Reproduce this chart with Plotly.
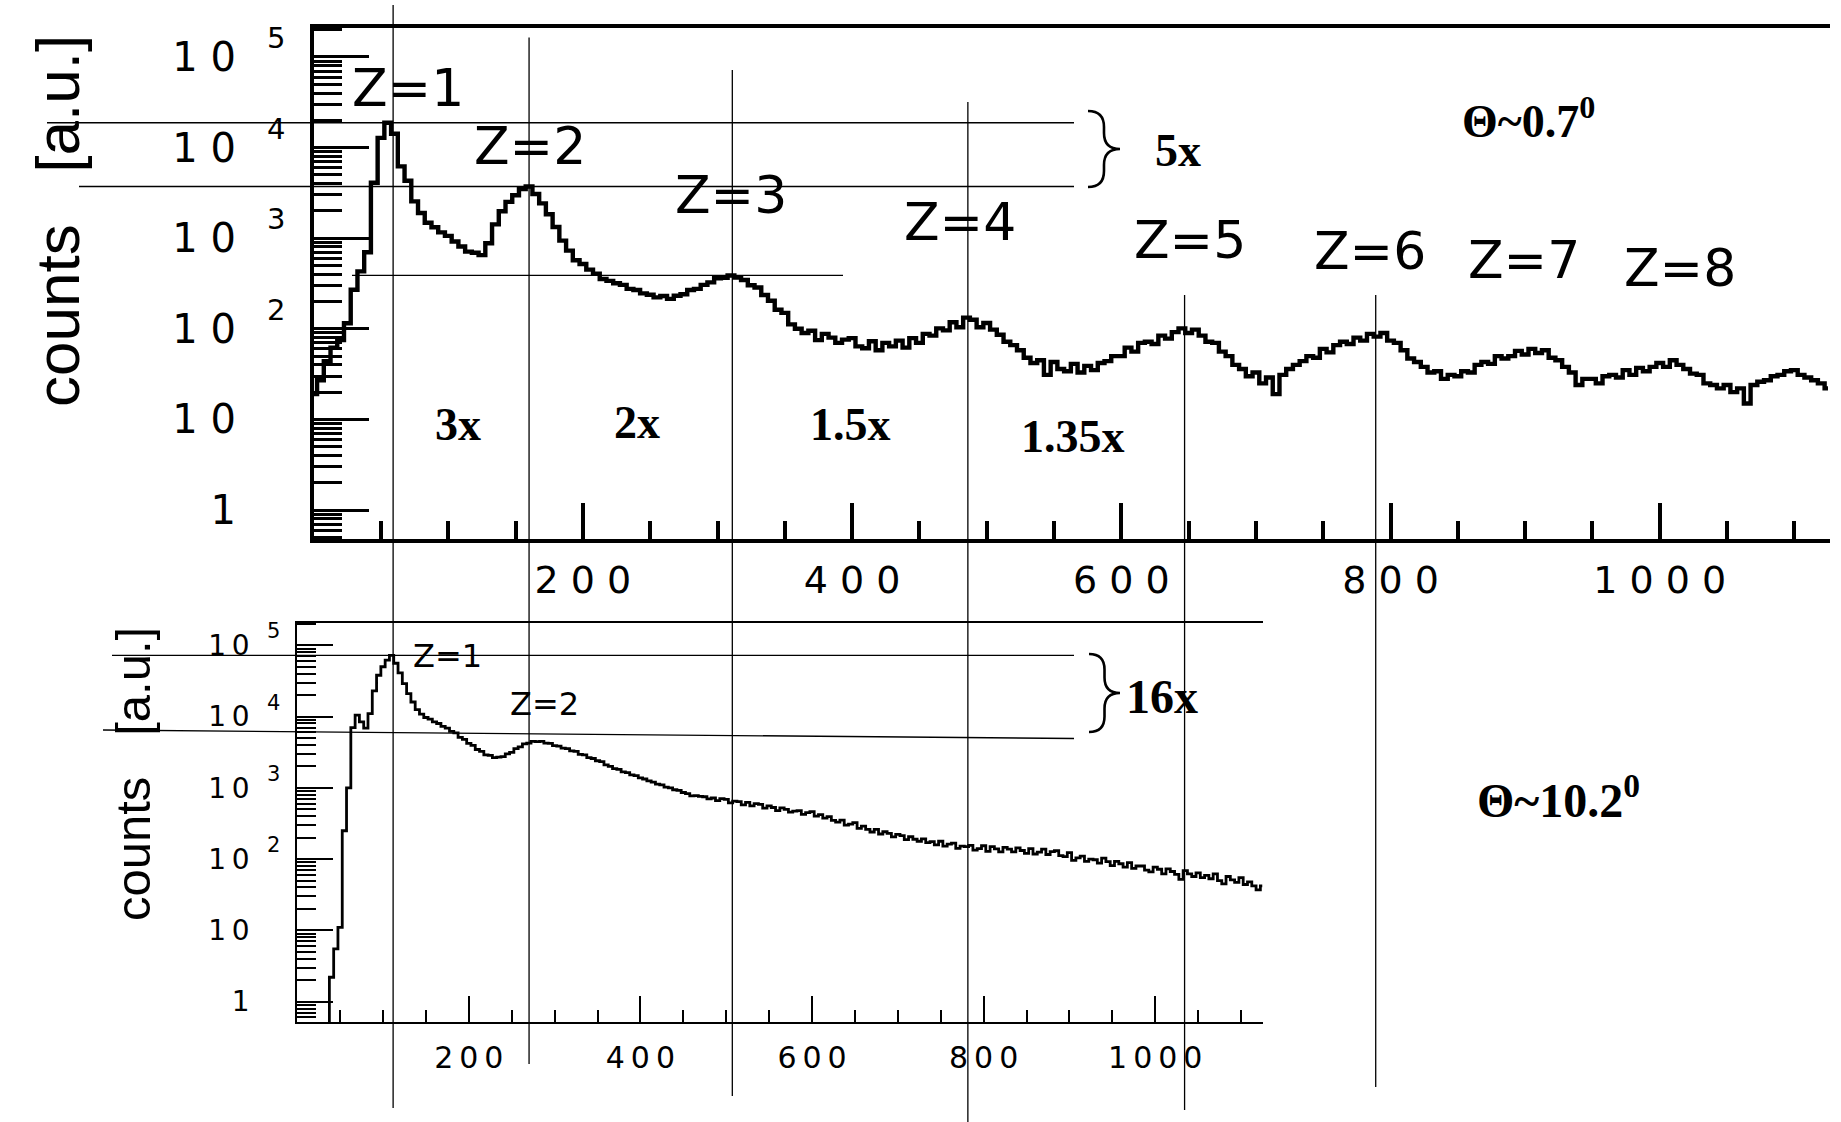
import math
import plotly.graph_objects as go

W, H = 1841, 1122

# ---------------- data ----------------
# Theta ~ 0.7 deg spectrum, counts per 5-channel bin starting at channel 0
top_bin = 5
top_counts = [
    19, 27, 44, 62, 75, 115, 270, 430, 700, 4100,
    12800, 18800, 14200, 6200, 4300, 2550, 1900, 1480, 1320, 1160,
    1060, 920, 810, 710, 690, 650, 880, 1420, 1980, 2520,
    2980, 3480, 3720, 3080, 2420, 1840, 1330, 940, 730, 570,
    520, 450, 405, 355, 338, 318, 305, 276, 268, 246,
    238, 222, 230, 214, 232, 241, 268, 276, 305, 325,
    362, 366, 388, 368, 345, 302, 286, 236, 204, 162,
    150, 112, 100, 90, 95, 75, 88, 80, 70, 76,
    79, 64, 61, 73, 58, 70, 64, 74, 62, 79,
    70, 88, 84, 101, 96, 118, 104, 133, 126, 104,
    116, 98, 86, 72, 66, 58, 48, 42, 45, 31,
    43, 36, 34, 41, 33, 39, 35, 42, 44, 50,
    50, 62, 56, 70, 72, 68, 84, 78, 92, 101,
    90, 98, 84, 72, 70, 56, 50, 40, 36, 30,
    33, 25, 29, 19, 31, 36, 40, 44, 50, 48,
    60, 55, 66, 72, 68, 80, 74, 88, 82, 90,
    74, 70, 58, 47, 43, 38, 33, 34, 28, 31,
    30, 34, 33, 40, 43, 41, 50, 47, 50, 57,
    52, 60, 54, 58, 48, 45, 38, 33, 24, 28,
    28, 25, 30, 31, 29, 35, 31, 37, 34, 38,
    42, 38, 45, 40, 36, 32, 31, 25, 24, 22,
    24, 20, 22, 15, 24, 26, 27, 30, 31, 34,
    35, 31, 29, 27, 25, 22,
]
top_channels = list(range(0, top_bin * len(top_counts), top_bin))

# Theta ~ 10.2 deg spectrum, counts per 5-channel bin starting at channel 35
bottom_start = 35
bottom_bin = 5
bottom_counts = [
    0.3, 2.2, 5.5, 11, 250, 1000, 7000, 10500, 8400, 6900,
    11000, 23000, 38000, 50000, 62000, 72000, 56000, 41000, 29000, 21000,
    16000, 12500, 10800, 9700, 9200, 8400, 8000, 7300, 6900, 6200,
    5900, 5100, 4800, 4200, 3950, 3450, 3250, 2900, 2850, 2650,
    2700, 2750, 3000, 3150, 3550, 3750, 4150, 4250, 4500, 4450,
    4500, 4250, 4200, 3900, 3850, 3600, 3550, 3300, 3250, 2950,
    2900, 2650, 2580, 2400, 2330, 2100, 2000, 1860, 1820, 1680,
    1640, 1520, 1480, 1380, 1330, 1250, 1200, 1130, 1100, 1020,
    1000, 940, 920, 860, 830, 770, 780, 760, 750, 700,
    720, 660, 705, 690, 615, 650, 640, 575, 625, 560,
    600, 585, 520, 560, 530, 480, 525, 500, 455, 470,
    480, 425, 450, 465, 400, 420, 375, 395, 350, 330,
    352, 300, 310, 325, 270, 290, 262, 240, 262, 225,
    242, 230, 205, 222, 214, 188, 206, 190, 178, 192,
    170, 176, 158, 178, 152, 162, 168, 141, 152, 150,
    156, 134, 140, 154, 128, 150, 139, 126, 146, 138,
    126, 144, 132, 120, 140, 118, 125, 138, 116, 127,
    131, 112, 108, 123, 96, 104, 110, 93, 100, 98,
    88, 103, 92, 81, 93, 86, 77, 89, 74, 80,
    80, 70, 66, 77, 72, 62, 73, 67, 61, 52,
    69, 62, 57, 64, 55, 59, 53, 62, 50, 45,
    57, 51, 47, 55, 44, 48, 42, 37, 42,
]
bottom_channels = list(range(bottom_start, bottom_start + bottom_bin * len(bottom_counts), bottom_bin))

# charge peaks
z_top_labels = ["Z=1", "Z=2", "Z=3", "Z=4", "Z=5", "Z=6", "Z=7", "Z=8"]
z_bottom_labels = ["Z=1", "Z=2"]
z_line_channels = [59, 160, 311, 486, 647, 789]          # Z=1..6 peak positions (0.7 deg)
top_peak_counts = [18800, 3720, 388]                       # Z=1, Z=2, Z=3 peak heights
bottom_peak_counts = [72000, 4500]                         # Z=1, Z=2 peak heights
ratio_labels = ["3x", "2x", "1.5x", "1.35x"]
top_ratio_label = "5x"
bottom_ratio_label = "16x"
angle_top = "Θ~0.7<sup>0</sup>"
angle_bottom = "Θ~10.2<sup>0</sup>"
x_tick_values = [200, 400, 600, 800, 1000]
decades = [0, 1, 2, 3, 4, 5]

# ---------------- geometry ----------------
TOP_DX = [313.7 / W, 1830 / W]
TOP_RX = [0, 1126.5]
TOP_DY = [1 - 539 / H, 1 - 28 / H]
TOP_RY = [-0.32, 5.32]
BOT_DX = [297.2 / W, 1262.5 / W]
BOT_RX = [0, 1125]
BOT_DY = [1 - 1022.3 / H, 1 - 622.5 / H]
BOT_RY = [-0.29, 5.32]


def px(x):
    return x / W


def py(y):
    return 1 - y / H


def top_xp(ch):
    return TOP_DX[0] + (ch - TOP_RX[0]) / (TOP_RX[1] - TOP_RX[0]) * (TOP_DX[1] - TOP_DX[0])


def top_yp(c):
    return TOP_DY[0] + (math.log10(c) - TOP_RY[0]) / (TOP_RY[1] - TOP_RY[0]) * (TOP_DY[1] - TOP_DY[0])


def bot_yp(c):
    return BOT_DY[0] + (math.log10(c) - BOT_RY[0]) / (BOT_RY[1] - BOT_RY[0]) * (BOT_DY[1] - BOT_DY[0])


def spaced(s, sep=" "):
    return sep.join(s)


minor_log = [m * 10 ** k for k in range(-1, 6) for m in range(2, 10)]

fig = go.Figure()
fig.add_trace(go.Scatter(x=top_channels, y=top_counts, mode="lines",
                         line=dict(color="black", width=4.4, shape="hvh"),
                         xaxis="x", yaxis="y", showlegend=False))
fig.add_trace(go.Scatter(x=bottom_channels, y=bottom_counts, mode="lines",
                         line=dict(color="black", width=2.8, shape="hvh"),
                         xaxis="x2", yaxis="y2", showlegend=False))

ROOT_FONT = "DejaVu Sans"
SERIF = "Liberation Serif"

fig.update_layout(
    width=W, height=H, margin=dict(l=0, r=0, t=0, b=0),
    paper_bgcolor="white", plot_bgcolor="white", showlegend=False,
    xaxis=dict(domain=TOP_DX, range=TOP_RX, anchor="y", showgrid=False, zeroline=False,
               showline=True, linecolor="black", linewidth=3.5, mirror=True,
               ticks="inside", ticklen=36, tickwidth=3.5, tickcolor="black",
               tickvals=x_tick_values, ticktext=[spaced(str(v)) for v in x_tick_values],
               tickfont=dict(family=ROOT_FONT, size=38, color="black"),
               ticklabelstandoff=5,
               minor=dict(ticks="inside", ticklen=18, tickwidth=3.5, tickcolor="black",
                          tickmode="linear", tick0=0, dtick=50, showgrid=False)),
    yaxis=dict(domain=TOP_DY, range=TOP_RY, type="log", anchor="x", showgrid=False, zeroline=False,
               showline=True, linecolor="black", linewidth=3.5, mirror=False,
               ticks="inside", ticklen=56, tickwidth=2.6, tickcolor="black",
               tickvals=[10 ** d for d in decades],
               ticktext=["1"] + [spaced("10")] * 5,
               tickfont=dict(family=ROOT_FONT, size=40, color="black"),
               ticklabelstandoff=66,
               minor=dict(ticks="inside", ticklen=29, tickwidth=2.6, tickcolor="black",
                          tickvals=minor_log, showgrid=False)),
    xaxis2=dict(domain=BOT_DX, range=BOT_RX, anchor="y2", showgrid=False, zeroline=False,
                showline=True, linecolor="black", linewidth=2, mirror=True,
                ticks="inside", ticklen=26, tickwidth=2, tickcolor="black",
                tickvals=x_tick_values, ticktext=[spaced(str(v), "\u2009") for v in x_tick_values],
                tickfont=dict(family=ROOT_FONT, size=30, color="black"),
                ticklabelstandoff=8,
                minor=dict(ticks="inside", ticklen=12, tickwidth=2, tickcolor="black",
                           tickmode="linear", tick0=0, dtick=50, showgrid=False)),
    yaxis2=dict(domain=BOT_DY, range=BOT_RY, type="log", anchor="x2", showgrid=False, zeroline=False,
                showline=True, linecolor="black", linewidth=2, mirror=False,
                ticks="inside", ticklen=36, tickwidth=1.6, tickcolor="black",
                tickvals=[10 ** d for d in decades],
                ticktext=["1"] + ["1\u20090"] * 5,
                tickfont=dict(family=ROOT_FONT, size=28, color="black"),
                ticklabelstandoff=40,
                minor=dict(ticks="inside", ticklen=19, tickwidth=1.6, tickcolor="black",
                           tickvals=minor_log, showgrid=False)),
)

shapes = []
LINE = dict(color="black", width=1.3)

# vertical charge lines crossing both panels
z_line_extent = [(5, 1108), (37.5, 1064), (70, 1096), (102, 1122), (295, 1110), (295, 1087)]
for ch, (y0, y1) in zip(z_line_channels, z_line_extent):
    xp = top_xp(ch)
    shapes.append(dict(type="line", xref="paper", yref="paper", x0=xp, x1=xp,
                       y0=py(y0), y1=py(y1), line=LINE))

# peak height guides, upper panel
top_guides = [(47, 1074), (79, 1074), (352, 843)]
for c, (xa, xb) in zip(top_peak_counts, top_guides):
    shapes.append(dict(type="line", xref="paper", yref="paper", x0=px(xa), x1=px(xb),
                       y0=top_yp(c), y1=top_yp(c), line=LINE))

# peak height guides, lower panel
shapes.append(dict(type="line", xref="paper", yref="paper", x0=px(112), x1=px(1074),
                   y0=bot_yp(bottom_peak_counts[0]), y1=bot_yp(bottom_peak_counts[0]), line=LINE))
shapes.append(dict(type="line", xref="paper", yref="paper", x0=px(103), x1=px(1074),
                   y0=py(730), y1=py(738.5), line=LINE))


def brace(x_left, x_tip, y_top, y_bot):
    ym = (y_top + y_bot) / 2
    xm = (x_left + x_tip) / 2
    r = (x_tip - x_left) / 2
    pts = [
        ("M", [(x_left, y_top)]),
        ("Q", [(xm, y_top), (xm, y_top + r)]),
        ("L", [(xm, ym - r)]),
        ("Q", [(xm, ym), (x_tip, ym)]),
        ("Q", [(xm, ym), (xm, ym + r)]),
        ("L", [(xm, y_bot - r)]),
        ("Q", [(xm, y_bot), (x_left, y_bot)]),
    ]
    out = []
    for cmd, ps in pts:
        out.append(cmd + " " + " ".join(f"{px(a):.5f},{py(b):.5f}" for a, b in ps))
    return " ".join(out)


for args in [(1088, 1120, 111, 187), (1089, 1120, 654, 732)]:
    shapes.append(dict(type="path", xref="paper", yref="paper", path=brace(*args),
                       line=dict(color="black", width=2.6)))

fig.update_layout(shapes=shapes)

ann = []


def text(x, y, s, size, family=ROOT_FONT, bold=False, angle=0, xanchor="center", yanchor="middle"):
    ann.append(dict(x=px(x), y=py(y), xref="paper", yref="paper", text=(f"<b>{s}</b>" if bold else s),
                    showarrow=False, textangle=angle, xanchor=xanchor, yanchor=yanchor,
                    font=dict(family=family, size=size, color="black")))


# exponents of the decade labels
for d in decades[2:]:
    ann.append(dict(x=px(276), y=d, xref="paper", yref="y", yshift=19, text=str(d), showarrow=False,
                    xanchor="center", yanchor="middle",
                    font=dict(family=ROOT_FONT, size=29, color="black")))
    ann.append(dict(x=px(273), y=d, xref="paper", yref="y2", yshift=14, text=str(d), showarrow=False,
                    xanchor="center", yanchor="middle",
                    font=dict(family=ROOT_FONT, size=21, color="black")))

# axis titles
SANS = "Liberation Sans"
text(57, 221, "counts\u00a0\u00a0\u00a0[a.u.]", 62, family=SANS, angle=-90)
text(133, 774, "counts\u00a0\u00a0\u00a0[a.u.]", 49, family=SANS, angle=-90)

# charge labels
z_top_pos = [(408, 88), (530, 146), (731, 195), (960, 222), (1190, 240), (1370, 251), (1524, 260), (1680, 268)]
for s, (x, y) in zip(z_top_labels, z_top_pos):
    text(x, y, s, 52)
z_bot_pos = [(447, 656), (544, 704)]
for s, (x, y) in zip(z_bottom_labels, z_bot_pos):
    text(x, y, s, 32)

# ratio labels
ratio_pos = [(458, 424), (637, 422), (850, 424), (1073, 437)]
for s, (x, y) in zip(ratio_labels, ratio_pos):
    text(x, y, s, 46, family=SERIF, bold=True)
text(1178, 151, top_ratio_label, 46, family=SERIF, bold=True)
text(1162, 696, bottom_ratio_label, 48, family=SERIF, bold=True)

# angle labels
text(1528, 118, angle_top, 46, family=SERIF, bold=True)
text(1558, 797, angle_bottom, 48, family=SERIF, bold=True)

fig.update_layout(annotations=ann)
fig.write_html("out.html")
